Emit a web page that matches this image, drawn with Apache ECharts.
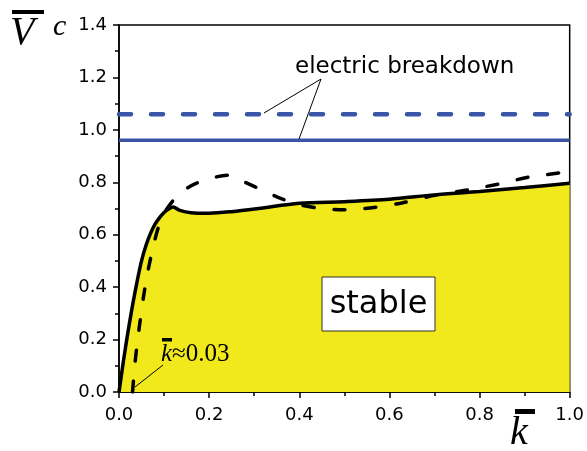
<!DOCTYPE html>
<html>
<head>
<meta charset="utf-8">
<script src="https://cdn.jsdelivr.net/npm/echarts@6/dist/echarts.min.js"></script>
<style>
  html, body { margin: 0; padding: 0; background: #fff; }
  #chart { width: 587px; height: 451px; }
</style>
</head>
<body>
<div id="chart"></div>
<script>
// stability boundary (solid)
const kSolid = [0, 0.01, 0.02, 0.03, 0.04, 0.05, 0.06, 0.07, 0.08, 0.09, 0.1, 0.11, 0.12, 0.135, 0.16, 0.2, 0.25, 0.31, 0.4, 0.5, 0.6, 0.7, 0.8, 0.9, 1.0]
const vSolid = [0, 0.12, 0.23, 0.33, 0.42, 0.5, 0.56, 0.605, 0.64, 0.665, 0.685, 0.698, 0.706, 0.693, 0.684, 0.682, 0.688, 0.7, 0.72, 0.726, 0.735, 0.752, 0.765, 0.78, 0.796]
// second boundary (dashed)
const kDash = [0.03, 0.037, 0.046, 0.055, 0.067, 0.085, 0.1, 0.113, 0.13, 0.16, 0.2, 0.24, 0.28, 0.32, 0.36, 0.4, 0.45, 0.5, 0.57, 0.63, 0.7, 0.78, 0.85, 0.91, 1.0]
const vDash = [0, 0.135, 0.26, 0.37, 0.485, 0.615, 0.68, 0.715, 0.748, 0.787, 0.813, 0.827, 0.8, 0.768, 0.738, 0.715, 0.7, 0.695, 0.705, 0.722, 0.75, 0.773, 0.796, 0.82, 0.84]
// electric breakdown levels
const kRange = [0, 1]
const breakdownSolid = 0.96
const breakdownDash = 1.06

const xTicks = ['0.0', '0.2', '0.4', '0.6', '0.8', '1.0']
const yTicks = ['0.0', '0.2', '0.4', '0.6', '0.8', '1.0', '1.2', '1.4']

const pairs = (xs, ys) => xs.map((x, i) => [x, ys[i]])
const flat = v => kRange.map(k => [k, v])

const yellow = '#f1e91b'
const blue = '#3a55a6'
const sans = 'DejaVu Sans'
const serif = 'Liberation Serif'

let myChart = echarts.init(document.getElementById('chart'))
let option = {
  animation: false,
  grid: {
    left: 119,
    right: 15,
    top: 25,
    bottom: 59,
    show: true,
    borderColor: '#000',
    borderWidth: 1.5
  },
  xAxis: {
    type: 'value',
    min: 0,
    max: 1,
    interval: 0.2,
    axisLine: { lineStyle: { color: '#000', width: 1.5 } },
    axisTick: { length: 6, lineStyle: { color: '#000', width: 1.5 } },
    minorTick: { show: true, splitNumber: 2, length: 4, lineStyle: { color: '#000', width: 1.5 } },
    splitLine: { show: false },
    axisLabel: {
      formatter: (v) => xTicks[Math.round(v / 0.2)],
      color: '#000',
      fontFamily: sans,
      fontSize: 18,
      margin: 14
    }
  },
  yAxis: {
    type: 'value',
    min: 0,
    max: 1.4,
    interval: 0.2,
    axisLine: { lineStyle: { color: '#000', width: 1.5 } },
    axisTick: { length: 6, lineStyle: { color: '#000', width: 1.5 } },
    minorTick: { show: true, splitNumber: 2, length: 4, lineStyle: { color: '#000', width: 1.5 } },
    splitLine: { show: false },
    axisLabel: {
      formatter: (v) => yTicks[Math.round(v / 0.2)],
      color: '#000',
      fontFamily: sans,
      fontSize: 18,
      margin: 12
    }
  },
  series: [
    {
      // yellow stable region
      type: 'line',
      data: pairs(kSolid, vSolid),
      smooth: 0.3,
      showSymbol: false,
      lineStyle: { width: 0, opacity: 0 },
      areaStyle: { color: yellow, opacity: 1 },
      z: 1
    },
    {
      type: 'line',
      data: flat(breakdownDash),
      showSymbol: false,
      lineStyle: { color: blue, width: 4.5, type: [12, 20], cap: 'round' },
      z: 2
    },
    {
      type: 'line',
      data: flat(breakdownSolid),
      showSymbol: false,
      lineStyle: { color: blue, width: 3.5 },
      z: 2
    },
    {
      type: 'line',
      data: pairs(kDash, vDash),
      smooth: 0.3,
      showSymbol: false,
      lineStyle: { color: '#000', width: 3.5, type: [11, 20], cap: 'round' },
      z: 3
    },
    {
      type: 'line',
      data: pairs(kSolid, vSolid),
      smooth: 0.3,
      showSymbol: false,
      lineStyle: { color: '#000', width: 3.5 },
      z: 4
    }
  ],
  graphic: [
    // axis name V with bar, and c
    { type: 'rect', shape: { x: 12, y: 10, width: 32, height: 4 }, style: { fill: '#000' }, z: 10 },
    { type: 'text', x: 10, y: 33, style: { text: 'V', fontFamily: serif, fontStyle: 'italic', fontSize: 40, fill: '#000', verticalAlign: 'middle' } },
    { type: 'text', x: 53, y: 27, style: { text: 'c', fontFamily: serif, fontStyle: 'italic', fontSize: 30, fill: '#000', verticalAlign: 'middle' } },
    // axis name k with bar
    { type: 'rect', shape: { x: 515, y: 409, width: 20, height: 5 }, style: { fill: '#000' }, z: 10 },
    { type: 'text', x: 510, y: 433, style: { text: 'k', fontFamily: serif, fontStyle: 'italic', fontSize: 40, fill: '#000', verticalAlign: 'middle' } },
    // electric breakdown note
    { type: 'text', x: 295, y: 67, style: { text: 'electric breakdown', fontFamily: sans, fontSize: 23, fill: '#000', verticalAlign: 'middle' } },
    { type: 'line', shape: { x1: 321, y1: 79, x2: 264, y2: 113 }, style: { stroke: '#000', lineWidth: 1 }, z: 10 },
    { type: 'line', shape: { x1: 321, y1: 79, x2: 299, y2: 139 }, style: { stroke: '#000', lineWidth: 1 }, z: 10 },
    // k ≈ 0.03 note
    { type: 'rect', shape: { x: 162, y: 338, width: 10, height: 3.5 }, style: { fill: '#000' }, z: 10 },
    {
      type: 'text', x: 161, y: 354, z: 10,
      style: {
        text: '{i|k}≈0.03',
        fontFamily: serif, fontSize: 25, fill: '#000', verticalAlign: 'middle',
        rich: { i: { fontFamily: serif, fontStyle: 'italic', fontSize: 25, fill: '#000' } }
      }
    },
    { type: 'line', shape: { x1: 135, y1: 387, x2: 163, y2: 365 }, style: { stroke: '#000', lineWidth: 1 }, z: 10 },
    // stable box
    { type: 'rect', shape: { x: 322, y: 277, width: 113, height: 54 }, style: { fill: '#fff', stroke: '#333', lineWidth: 1 }, z: 10 },
    { type: 'text', x: 378.5, y: 305, z: 11, style: { text: 'stable', fontFamily: sans, fontSize: 32, fill: '#000', align: 'center', verticalAlign: 'middle' } }
  ]
}
myChart.setOption(option, true)
</script>
</body>
</html>
